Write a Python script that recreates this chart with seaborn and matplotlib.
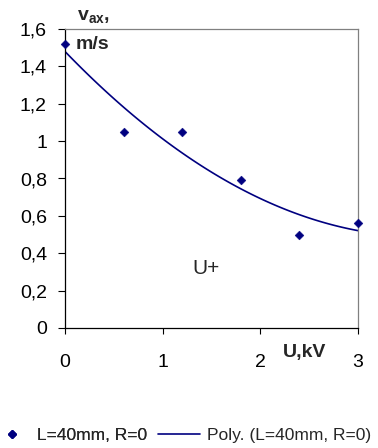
import numpy as np
import pandas as pd
import matplotlib
matplotlib.use("Agg")
import matplotlib.pyplot as plt
import seaborn as sns
from matplotlib.lines import Line2D

# data
u_kv = [0.0, 0.6, 1.2, 1.8, 2.4, 3.0]
v_ax = [1.52, 1.05, 1.05, 0.79, 0.50, 0.56]
x_ticks = [0, 1, 2, 3]
y_ticks = [0, 0.2, 0.4, 0.6, 0.8, 1.0, 1.2, 1.4, 1.6]
y_tick_labels = ["0", "0,2", "0,4", "0,6", "0,8", "1", "1,2", "1,4", "1,6"]
series_label = "L=40mm, R=0"
trend_label = "Poly. (L=40mm, R=0)"

sns.set_theme(style="white")
plt.rcParams['font.family'] = ['Liberation Sans', 'DejaVu Sans']
plt.rcParams['mathtext.fontset'] = 'custom'
plt.rcParams['mathtext.rm'] = 'Liberation Sans'
plt.rcParams['mathtext.bf'] = 'Liberation Sans:bold'

navy = "#000080"
W, H = 378, 448
fig = plt.figure(figsize=(W / 100, H / 100), dpi=100)
ax = fig.add_axes([65 / W, 1 - 328 / H, 293 / W, 299 / H])

df = pd.DataFrame({"U": u_kv, "v": v_ax})
# 2nd-order polynomial trendline computed from the data
coef = np.polyfit(df["U"], df["v"], 2)
xs = np.linspace(0, 3, 100)
trend = pd.DataFrame({"U": xs, "v": np.polyval(coef, xs)})

sns.lineplot(data=trend, x="U", y="v", ax=ax, color=navy, linewidth=1.2)
sns.scatterplot(data=df, x="U", y="v", ax=ax, marker="D", s=20, color=navy,
                edgecolor=navy, zorder=5, clip_on=False)

ax.set_xlim(0, 3)
ax.set_ylim(0, 1.6)
ax.set_xticks(x_ticks)
ax.set_xticklabels([str(t) for t in x_ticks], fontsize=14)
ax.set_yticks(y_ticks)
ax.set_yticklabels(y_tick_labels, fontsize=14)
ax.set_xlabel("")
ax.set_ylabel("")
ax.tick_params(axis="y", direction="out", length=5, width=0.8, colors="black",
               left=True, pad=8)
ax.tick_params(axis="x", direction="out", length=4, width=0.8, colors="black",
               bottom=True, pad=15)
for s in ["left", "bottom"]:
    ax.spines[s].set_color("black")
    ax.spines[s].set_linewidth(0.9)
for s in ["top", "right"]:
    ax.spines[s].set_color("#808080")
    ax.spines[s].set_linewidth(0.9)

fig.text(77 / W, 1 - 17 / H, r"$\mathbf{v}_{\mathbf{ax}}$" + ",", fontsize=14,
         fontweight="bold", ha="left", va="center")
ax.text(0.11, 1.515, "m/s", fontsize=14, fontweight="bold", ha="left", va="center")
ax.text(1.30, 0.32, "U+", fontsize=15, ha="left", va="center")
fig.text(283 / W, 1 - 352 / H, "U,kV", fontsize=14, fontweight="bold",
         ha="left", va="center")

fs_leg = 12.5
leg_y = 1 - 435 / H
leg1 = fig.legend([Line2D([], [], marker="D", color=navy, linestyle="none", markersize=4.2)],
                  [series_label], loc="center left", bbox_to_anchor=(3 / W, leg_y),
                  frameon=False, fontsize=fs_leg, handlelength=1.0, handletextpad=0.94,
                  borderpad=0, borderaxespad=0)
fig.add_artist(leg1)
fig.legend([Line2D([], [], color=navy, linewidth=1.2)], [trend_label],
           loc="center left", bbox_to_anchor=(158 / W, leg_y),
           frameon=False, fontsize=fs_leg, handlelength=2.41, handletextpad=0.4,
           borderpad=0, borderaxespad=0)

fig.savefig("out.png", dpi=100)
